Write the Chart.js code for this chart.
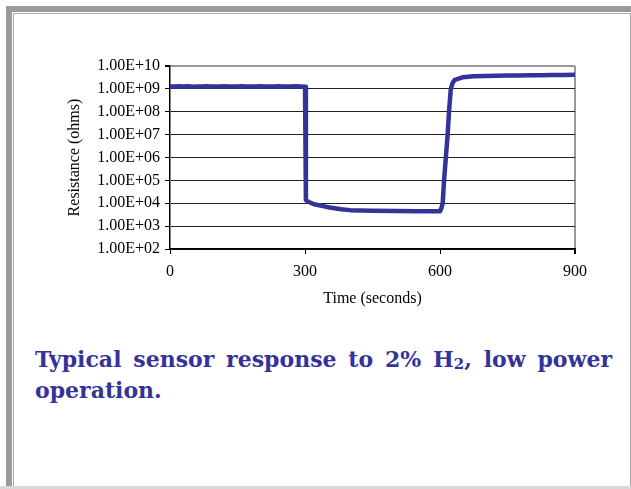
<!DOCTYPE html>
<html>
<head>
<meta charset="utf-8">
<script src="https://cdn.jsdelivr.net/npm/chart.js@4/dist/chart.umd.min.js"></script>
<style>
  html, body { margin: 0; padding: 0; background: #fff; }
  body { width: 631px; height: 489px; position: relative; overflow: hidden; }
  .outer { position: absolute; left: 6px; top: 6px; width: 640px; height: 490px;
           border-left: 6px solid #9a9a9a; border-top: 6px solid #9a9a9a; }
  .inner { position: absolute; left: 13px; top: 13px; width: 616px; height: 472px;
           border: 1px solid #a8a8a8; }
  .bottom { position: absolute; left: 0; top: 486px; width: 631px; height: 3px; background: #d8d8d8; }
  #chart { position: absolute; left: 20px; top: 40px; }
  .caption { position: absolute; left: 35px; top: 344px; width: 577px;
             font-family: "DejaVu Serif", serif; font-weight: bold; font-size: 22px;
             line-height: 31px; color: #333399; text-align: justify; }
  .caption sub { font-size: 0.68em; vertical-align: -0.15em; line-height: 0; }
</style>
</head>
<body>
<div class="outer"></div>
<div class="inner"></div>
<div class="bottom"></div>
<canvas id="chart" width="590" height="280"></canvas>
<div class="caption">Typical sensor response to 2% H<sub>2</sub>, low power operation.</div>
<script>
// time in seconds, resistance in ohms
const timeSec = [0, 10, 20, 30, 40, 50, 60, 70, 80, 90, 100, 110, 120, 130, 140, 150,
  160, 170, 180, 190, 200, 210, 220, 230, 240, 250, 260, 270, 280, 290, 300,
  302, 306, 310, 320, 340, 355, 380, 400, 450, 500, 550, 600,
  603, 606, 609, 613, 617, 620, 624, 628, 633, 650, 675, 700, 725, 750, 775,
  800, 825, 850, 875, 900];
const resistance = [1.28e9, 1.26e9, 1.30e9, 1.27e9, 1.29e9, 1.25e9, 1.28e9, 1.27e9, 1.30e9, 1.26e9,
  1.28e9, 1.27e9, 1.29e9, 1.26e9, 1.28e9, 1.27e9, 1.30e9, 1.26e9, 1.28e9, 1.27e9,
  1.29e9, 1.26e9, 1.28e9, 1.27e9, 1.29e9, 1.27e9, 1.28e9, 1.26e9, 1.29e9, 1.27e9, 1.25e9,
  1.4e4, 1.2e4, 1.1e4, 9.0e3, 7.5e3, 6.5e3, 5.5e3, 5.0e3, 4.7e3, 4.6e3, 4.5e3, 4.5e3,
  6.0e3, 1.0e4, 1.0e5, 1.0e6, 1.0e7, 1.0e8, 1.0e9, 1.8e9, 2.5e9, 3.2e9, 3.6e9, 3.7e9,
  3.75e9, 3.8e9, 3.85e9, 3.9e9, 3.95e9, 4.0e9, 4.05e9, 4.1e9];

const yTickValues = [1e2, 1e3, 1e4, 1e5, 1e6, 1e7, 1e8, 1e9, 1e10];
const yTickLabels = ['1.00E+02', '1.00E+03', '1.00E+04', '1.00E+05', '1.00E+06',
  '1.00E+07', '1.00E+08', '1.00E+09', '1.00E+10'];
const xTickValues = [0, 300, 600, 900];

const tickFont = { family: 'Liberation Serif', size: 16 };
const points = timeSec.map((t, i) => ({ x: t, y: resistance[i] }));

new Chart(document.getElementById('chart'), {
  type: 'line',
  data: {
    datasets: [{
      data: points,
      borderColor: '#333399',
      borderWidth: 4.5,
      pointRadius: 0,
      tension: 0,
      borderJoinStyle: 'round',
      borderCapStyle: 'round'
    }]
  },
  options: {
    responsive: false,
    animation: false,
    devicePixelRatio: 1,
    layout: { padding: { left: 41, right: 35, top: 26, bottom: 8 } },
    plugins: { legend: { display: false }, tooltip: { enabled: false } },
    scales: {
      x: {
        type: 'linear',
        min: 0,
        max: 900,
        afterBuildTicks: scale => { scale.ticks = xTickValues.map(v => ({ value: v })); },
        afterFit: scale => { scale.height = 63; },
        ticks: { color: '#000', font: tickFont, padding: 8, maxRotation: 0 },
        grid: {
          color: ctx => ctx.tick && ctx.tick.value === 900 ? '#999' : 'rgba(0,0,0,0)',
          lineWidth: ctx => ctx.tick && ctx.tick.value === 900 ? 2 : 1,
          tickColor: '#000',
          tickLength: 5
        },
        border: { color: '#000', width: 1.5 },
        title: { display: true, text: 'Time (seconds)', color: '#000', font: tickFont, padding: 4 }
      },
      y: {
        type: 'logarithmic',
        min: 1e2,
        max: 1e10,
        afterBuildTicks: scale => { scale.ticks = yTickValues.map(v => ({ value: v })); },
        afterFit: scale => { scale.width = 150 - 41; },
        ticks: {
          color: '#000',
          font: tickFont,
          padding: 5,
          callback: v => yTickLabels[yTickValues.indexOf(v)]
        },
        grid: {
          color: ctx => ctx.tick && ctx.tick.value === 1e10 ? '#999' : '#222',
          lineWidth: ctx => ctx.tick && ctx.tick.value === 1e10 ? 2 : 1,
          tickColor: '#000',
          tickLength: 5
        },
        border: { color: '#000', width: 1.5 },
        title: { display: true, text: 'Resistance (ohms)', color: '#000', font: tickFont, padding: 4 }
      }
    }
  }
});
</script>
</body>
</html>
